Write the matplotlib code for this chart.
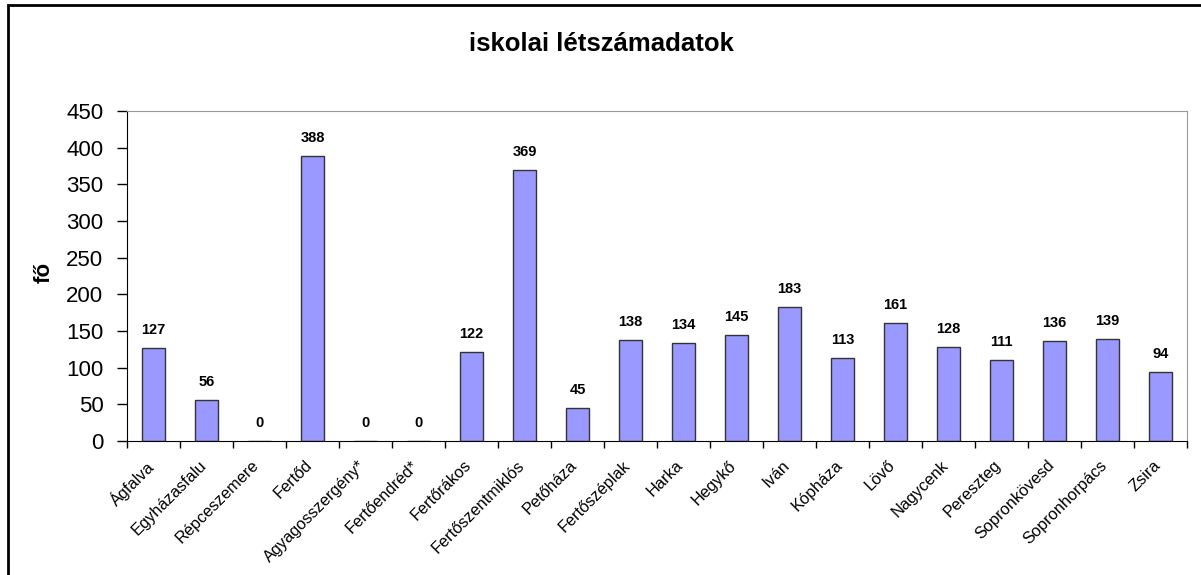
import numpy as np
import matplotlib.pyplot as plt
from matplotlib.patches import Rectangle

plt.rcParams['font.family'] = ['Liberation Sans', 'DejaVu Sans']

# iskolai létszámadatok
telepulesek = ['Ágfalva', 'Egyházasfalu', 'Répceszemere', 'Fertőd',
               'Agyagosszergény*', 'Fertőendréd*', 'Fertőrákos',
               'Fertőszentmiklós', 'Petőháza', 'Fertőszéplak', 'Harka',
               'Hegykő', 'Iván', 'Kópháza', 'Lövő', 'Nagycenk', 'Pereszteg',
               'Sopronkövesd', 'Sopronhorpács', 'Zsira']
letszam = [127, 56, 0, 388, 0, 0, 122, 369, 45, 138, 134, 145, 183, 113,
           161, 128, 111, 136, 139, 94]
y_ticks = [0, 50, 100, 150, 200, 250, 300, 350, 400, 450]

fig = plt.figure(figsize=(12.01, 5.75), dpi=100)
ax = fig.add_axes([127 / 1201, 1 - 441 / 575, (1187 - 127) / 1201, (441 - 111) / 575])

x = np.arange(len(telepulesek))
ax.bar(x, letszam, width=0.42, color='#9999FF', edgecolor='#333333', linewidth=1)
for xi, v in zip(x, letszam):
    ax.text(xi, v + 15, str(v), ha='center', va='bottom', fontsize=10.5,
            fontweight='bold')

ax.set_xlim(-0.5, len(telepulesek) - 0.5)
ax.set_ylim(0, 450)
ax.set_yticks(y_ticks)
ax.tick_params(axis='y', labelsize=16, length=7, direction='out', width=1, pad=10)
ax.set_xticks(x - 0.15)
ax.set_xticklabels(telepulesek, rotation=45, ha='right', rotation_mode='anchor',
                   fontsize=11.8)
ax.tick_params(axis='x', length=0, pad=12)
ax.set_xticks(np.arange(-0.5, len(telepulesek)), minor=True)
ax.tick_params(axis='x', which='minor', length=5, width=1)

for side in ['top', 'right']:
    ax.spines[side].set_color('#999999')
ax.spines['left'].set_color('black')
ax.spines['bottom'].set_color('black')

fig.text(44 / 1201, 1 - 272 / 575, 'fő', rotation=90, ha='center', va='center',
         fontsize=16, fontweight='bold')
fig.text(601 / 1201, 1 - 44 / 575, 'iskolai létszámadatok', ha='center',
         va='center', fontsize=18.5, fontweight='bold')

# chart frame (only left/top edges visible)
fig.patches.append(Rectangle((8 / 1201, -0.1), 1.2, 1 - 5 / 575 + 0.1,
                             transform=fig.transFigure, fill=False,
                             edgecolor='black', linewidth=2))

fig.savefig('out.png', dpi=100)
